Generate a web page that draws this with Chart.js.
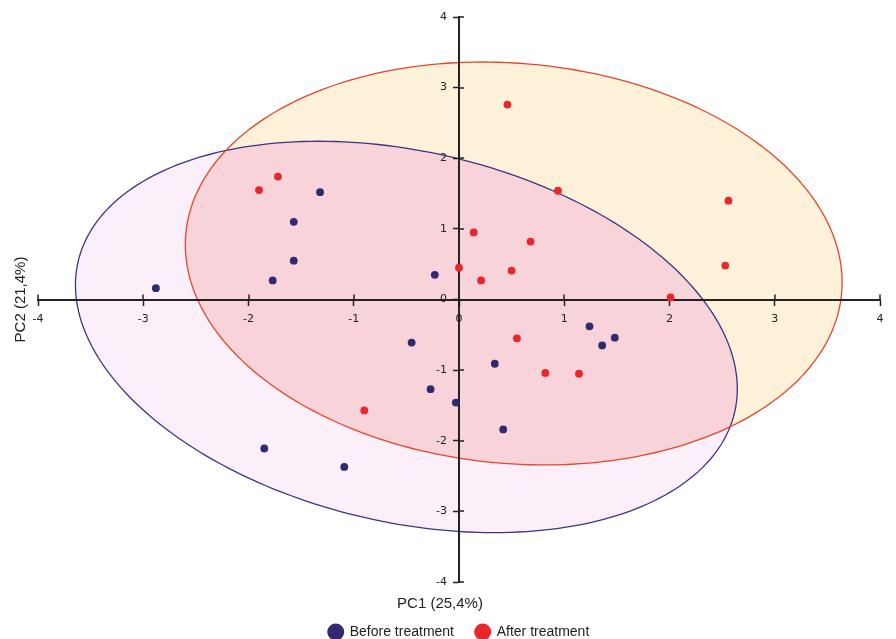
<!DOCTYPE html>
<html>
<head>
<meta charset="utf-8">
<script src="https://cdn.jsdelivr.net/npm/chart.js@4.4.1/dist/chart.umd.min.js"></script>
<style>
  html, body { margin: 0; padding: 0; background: #fff; overflow: hidden; }
  #wrap { width: 896px; height: 650px; }
</style>
</head>
<body>
<div id="wrap"><canvas id="pcaChart" width="896" height="650"></canvas></div>
<script>
/******************** 1. DATA ********************/
const AXIS_TICKS = [-4, -3, -2, -1, 0, 1, 2, 3, 4];
const X_TITLE = "PC1 (25,4%)";
const Y_TITLE = "PC2 (21,4%)";
const SERIES_NAMES = ["Before treatment", "After treatment"];

const BEFORE_X = [-2.88, -1.32, -1.57, -1.57, -1.77, -0.23, -0.45, -0.27, -0.03, 0.34, 0.42, 1.24, 1.36, 1.48, -1.85, -1.09];
const BEFORE_Y = [0.16, 1.52, 1.10, 0.55, 0.27, 0.35, -0.61, -1.27, -1.46, -0.91, -1.84, -0.38, -0.65, -0.54, -2.11, -2.37];

const AFTER_X = [0.46, 0.94, 2.56, 2.53, 0.14, 0.68, 0.00, 0.21, 0.50, 2.01, 0.55, 0.82, 1.14, -1.90, -1.72, -0.90];
const AFTER_Y = [2.76, 1.54, 1.40, 0.48, 0.95, 0.82, 0.45, 0.27, 0.41, 0.03, -0.55, -1.04, -1.05, 1.55, 1.74, -1.57];

// confidence ellipses: centre and two conjugate half-axes, in data units
const BEFORE_ELLIPSE_CENTER = [-0.50, -0.53];
const BEFORE_ELLIPSE_AXES = [[3.12, -1.06], [-0.39, -2.56]];
const AFTER_ELLIPSE_CENTER = [0.52, 0.51];
const AFTER_ELLIPSE_AXES = [[3.115, -0.43], [-0.18, -2.82]];

/******************** 2. STYLE ********************/
const NAVY = "#2f2a72";
const RED = "#e8262b";
const AXIS_COLOR = "#222";
const tickFont = { family: "DejaVu Sans", size: 11 };

function toPoints(xs, ys) {
  return xs.map((x, i) => ({ x, y: ys[i] }));
}

/******************** 3. ELLIPSE + AXIS PLUGIN ********************/
function ellipsePath(ctx, chart, center, axes) {
  const sx = chart.scales.x, sy = chart.scales.y;
  const steps = 240;
  ctx.beginPath();
  for (let i = 0; i <= steps; i++) {
    const t = i / steps * 2 * Math.PI;
    const c = Math.cos(t), s = Math.sin(t);
    const dx = center[0] + axes[0][0] * c + axes[1][0] * s;
    const dy = center[1] + axes[0][1] * c + axes[1][1] * s;
    const px = sx.getPixelForValue(dx), py = sy.getPixelForValue(dy);
    if (i === 0) ctx.moveTo(px, py); else ctx.lineTo(px, py);
  }
  ctx.closePath();
}

const ellipsePlugin = {
  id: "ellipses",
  beforeDraw(chart) {
    const ctx = chart.ctx;
    ctx.save();
    ellipsePath(ctx, chart, BEFORE_ELLIPSE_CENTER, BEFORE_ELLIPSE_AXES);
    ctx.fillStyle = "#fbf0fa";
    ctx.fill();
    ellipsePath(ctx, chart, AFTER_ELLIPSE_CENTER, AFTER_ELLIPSE_AXES);
    ctx.fillStyle = "#fef1d9";
    ctx.fill();
    // overlap of the two ellipses
    ctx.save();
    ellipsePath(ctx, chart, BEFORE_ELLIPSE_CENTER, BEFORE_ELLIPSE_AXES);
    ctx.clip();
    ellipsePath(ctx, chart, AFTER_ELLIPSE_CENTER, AFTER_ELLIPSE_AXES);
    ctx.fillStyle = "#f9d3da";
    ctx.fill();
    ctx.restore();
    ctx.lineWidth = 1.3;
    ellipsePath(ctx, chart, BEFORE_ELLIPSE_CENTER, BEFORE_ELLIPSE_AXES);
    ctx.strokeStyle = "#3d3583";
    ctx.stroke();
    ellipsePath(ctx, chart, AFTER_ELLIPSE_CENTER, AFTER_ELLIPSE_AXES);
    ctx.strokeStyle = "#e2472c";
    ctx.stroke();
    ctx.restore();
  },
  // other half of the cross ticks, and the y labels left of the centred axis
  beforeDatasetsDraw(chart) {
    const ctx = chart.ctx, sx = chart.scales.x, sy = chart.scales.y;
    const x0 = sx.getPixelForValue(0), y0 = sy.getPixelForValue(0);
    ctx.save();
    ctx.strokeStyle = AXIS_COLOR;
    ctx.lineWidth = 1.5;
    ctx.beginPath();
    sx.ticks.forEach(t => {
      const px = Math.round(sx.getPixelForValue(t.value));
      ctx.moveTo(px, y0); ctx.lineTo(px, y0 - 5);
    });
    sy.ticks.forEach(t => {
      const py = Math.round(sy.getPixelForValue(t.value));
      ctx.moveTo(x0, py); ctx.lineTo(x0 + 5, py);
    });
    ctx.stroke();
    ctx.fillStyle = "#222";
    ctx.font = tickFont.size + "px '" + tickFont.family + "'";
    ctx.textAlign = "right";
    ctx.textBaseline = "middle";
    sy.ticks.forEach(t => {
      ctx.fillText(String(t.value), x0 - 12, sy.getPixelForValue(t.value));
    });
    ctx.restore();
  }
};

/******************** 4. CHART ********************/
new Chart(document.getElementById("pcaChart"), {
  type: "scatter",
  data: {
    datasets: [
      {
        label: SERIES_NAMES[0],
        data: toPoints(BEFORE_X, BEFORE_Y),
        backgroundColor: NAVY,
        borderColor: NAVY,
        borderWidth: 0,
        pointRadius: 3.9
      },
      {
        label: SERIES_NAMES[1],
        data: toPoints(AFTER_X, AFTER_Y),
        backgroundColor: RED,
        borderColor: RED,
        borderWidth: 0,
        pointRadius: 3.9
      }
    ]
  },
  options: {
    responsive: false,
    animation: false,
    layout: { padding: { left: 0, right: 16, top: 17, bottom: 1 } },
    scales: {
      x: {
        type: "linear",
        position: { y: 0 },
        min: AXIS_TICKS[0],
        max: AXIS_TICKS[AXIS_TICKS.length - 1],
        afterBuildTicks: s => { s.ticks = AXIS_TICKS.map(v => ({ value: v })); },
        grid: { drawOnChartArea: false, tickLength: 5, tickWidth: 1.5, tickColor: AXIS_COLOR },
        border: { color: AXIS_COLOR, width: 2 },
        ticks: { font: tickFont, color: "#222", padding: 8, maxRotation: 0 }
      },
      y: {
        type: "linear",
        position: { x: 0 },
        min: AXIS_TICKS[0],
        max: AXIS_TICKS[AXIS_TICKS.length - 1],
        afterBuildTicks: s => { s.ticks = AXIS_TICKS.map(v => ({ value: v })); },
        grid: { drawOnChartArea: false, tickLength: 5, tickWidth: 1.5, tickColor: AXIS_COLOR },
        border: { color: AXIS_COLOR, width: 2 },
        ticks: { display: false }
      },
      yl: {
        type: "linear",
        position: "left",
        min: 0,
        max: 1,
        grid: { display: false },
        border: { display: false },
        ticks: { display: false },
        title: {
          display: true,
          text: Y_TITLE,
          color: "#222",
          font: { family: "Liberation Sans", size: 15 },
          padding: { top: 12, bottom: 0 }
        }
      }
    },
    plugins: {
      title: {
        display: true,
        position: "bottom",
        text: X_TITLE,
        color: "#222",
        weight: 500,
        font: { family: "Liberation Sans", size: 15, weight: "normal" },
        padding: { top: 13, bottom: 2 }
      },
      legend: {
        position: "bottom",
        fullSize: false,
        labels: {
          usePointStyle: true,
          pointStyle: "circle",
          boxHeight: 12,
          color: "#222",
          font: { family: "Liberation Sans", size: 14 },
          padding: 10,
          generateLabels: chart => Chart.defaults.plugins.legend.labels.generateLabels(chart)
            .map((item, i) => i === 0 ? { ...item, text: item.text + "   " } : item)
        }
      },
      tooltip: { enabled: false }
    }
  },
  plugins: [ellipsePlugin]
});
</script>
</body>
</html>
